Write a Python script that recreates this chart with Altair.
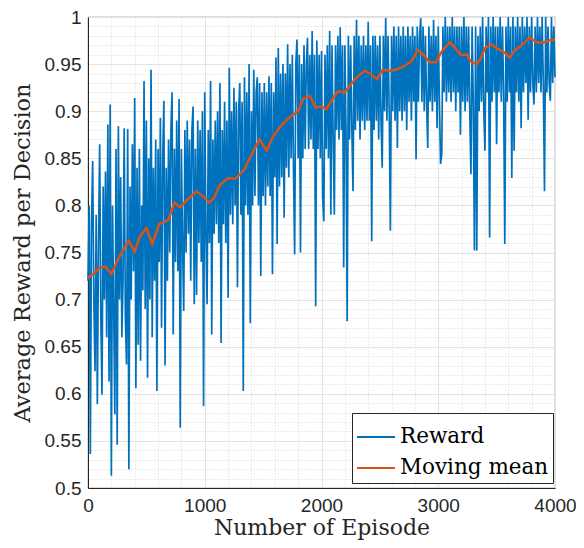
import altair as alt
import pandas as pd

reward = [
    0.72, 0.80, 0.536, 0.78, 0.847, 0.70, 0.624, 0.79, 0.589, 0.76,
    0.865, 0.68, 0.599, 0.82, 0.70, 0.836, 0.66, 0.886, 0.613, 0.907,
    0.513, 0.80, 0.69, 0.578, 0.86, 0.546, 0.884, 0.70, 0.83, 0.66,
    0.72, 0.882, 0.68, 0.631, 0.881, 0.520, 0.82, 0.70, 0.865, 0.73,
    0.914, 0.606, 0.84, 0.652, 0.86, 0.635, 0.80, 0.71, 0.932, 0.69,
    0.89, 0.617, 0.85, 0.70, 0.944, 0.66, 0.84, 0.72, 0.87, 0.603,
    0.86, 0.74, 0.893, 0.670, 0.85, 0.911, 0.630, 0.84, 0.72, 0.87,
    0.75, 0.88, 0.920, 0.663, 0.86, 0.74, 0.89, 0.73, 0.913, 0.564,
    0.86, 0.76, 0.688, 0.88, 0.75, 0.89, 0.77, 0.87, 0.72, 0.88,
    0.905, 0.695, 0.86, 0.705, 0.89, 0.76, 0.88, 0.74, 0.900, 0.587,
    0.920, 0.77, 0.695, 0.88, 0.76, 0.932, 0.663, 0.87, 0.77, 0.89,
    0.78, 0.90, 0.76, 0.930, 0.654, 0.88, 0.78, 0.91, 0.76, 0.89,
    0.702, 0.946, 0.79, 0.90, 0.78, 0.925, 0.80, 0.91, 0.713, 0.90,
    0.930, 0.79, 0.91, 0.603, 0.936, 0.80, 0.92, 0.79, 0.950, 0.675,
    0.90, 0.80, 0.944, 0.81, 0.92, 0.936, 0.80, 0.93, 0.725, 0.92,
    0.81, 0.93, 0.80, 0.92, 0.82, 0.937, 0.81, 0.93, 0.727, 0.92,
    0.83, 0.957, 0.759, 0.967, 0.82, 0.94, 0.83, 0.95, 0.787, 0.94,
    0.84, 0.971, 0.83, 0.95, 0.85, 0.96, 0.84, 0.748, 0.95, 0.976,
    0.85, 0.96, 0.750, 0.95, 0.85, 0.97, 0.86, 0.95, 0.978, 0.86,
    0.96, 0.87, 0.985, 0.86, 0.96, 0.693, 0.975, 0.86, 0.96, 0.85,
    0.964, 0.808, 0.783, 0.96, 0.86, 0.97, 0.85, 0.985, 0.790, 0.97,
    0.87, 0.790, 0.97, 0.88, 0.98, 0.87, 0.989, 0.88, 0.97, 0.734,
    0.97, 0.88, 0.677, 0.98, 0.87, 0.97, 0.88, 0.815, 0.98, 0.88,
    0.997, 0.89, 0.98, 0.87, 0.97, 0.89, 0.98, 0.88, 0.97, 0.89,
    0.995, 0.89, 0.97, 0.762, 0.98, 0.88, 0.98, 0.89, 0.97, 0.87,
    0.98, 0.89, 0.840, 0.98, 0.90, 0.999, 0.89, 0.98, 0.90, 0.773,
    0.98, 0.90, 0.99, 0.89, 0.98, 0.861, 0.990, 0.90, 0.98, 0.89,
    0.99, 0.90, 0.98, 0.88, 0.99, 0.91, 0.98, 0.89, 0.99, 0.91,
    0.98, 0.849, 0.99, 0.91, 0.98, 0.999, 0.91, 0.99, 0.90, 0.98,
    0.91, 0.861, 0.99, 0.91, 0.98, 0.90, 0.997, 0.91, 0.98, 0.882,
    0.99, 0.91, 0.844, 0.854, 0.99, 0.92, 1.0, 0.91, 0.99, 0.92,
    0.99, 0.91, 1.0, 0.92, 0.99, 0.90, 0.99, 0.92, 0.99, 0.875,
    0.99, 0.91, 1.0, 0.90, 0.99, 0.91, 0.99, 0.90, 0.833, 0.99,
    0.91, 0.752, 0.99, 0.752, 0.98, 0.90, 0.99, 0.91, 1.0, 0.90,
    0.858, 0.99, 0.92, 1.0, 0.766, 0.99, 0.91, 1.0, 0.92, 0.99,
    0.865, 0.99, 0.92, 1.0, 0.91, 0.99, 0.92, 0.759, 0.99, 0.91,
    1.0, 0.92, 0.99, 0.829, 1.0, 0.858, 0.99, 0.92, 1.0, 0.91,
    0.99, 0.882, 1.0, 0.92, 0.99, 0.93, 1.0, 0.891, 0.99, 0.92,
    1.0, 0.93, 0.907, 0.99, 0.92, 1.0, 0.93, 0.99, 0.92, 1.0,
    0.93, 0.815, 1.0, 0.92, 0.99, 0.93, 0.911, 1.0, 0.93, 0.99,
    0.936,
]
reward_episodes = list(range(0, 4001, 10))

# Moving mean
mean_episodes = [
    0, 50, 100, 150, 200, 250, 310, 350, 400, 440, 500, 550, 610, 690, 740,
    790, 850, 930, 1000, 1040, 1080, 1130, 1200, 1260, 1340, 1400, 1470,
    1530, 1580, 1650, 1720, 1800, 1840, 1900, 1950, 2000, 2040, 2100, 2140,
    2200, 2260, 2310, 2370, 2425, 2475, 2525, 2580, 2640, 2710, 2770, 2825,
    2880, 2925, 2980, 3033, 3100, 3145, 3190, 3250, 3275, 3330, 3370, 3400,
    3455, 3500, 3570, 3610, 3650, 3725, 3780, 3850, 3900, 3950, 4000,
]
mean_values = [
    0.723, 0.728, 0.734, 0.735, 0.727, 0.741, 0.755, 0.762, 0.751, 0.766,
    0.776, 0.759, 0.780, 0.785, 0.803, 0.798, 0.806, 0.815, 0.808, 0.803,
    0.808, 0.822, 0.829, 0.828, 0.838, 0.854, 0.870, 0.858, 0.872, 0.884,
    0.893, 0.900, 0.913, 0.916, 0.904, 0.905, 0.902, 0.914, 0.921, 0.920,
    0.930, 0.937, 0.943, 0.939, 0.934, 0.944, 0.943, 0.944, 0.948, 0.953,
    0.965, 0.959, 0.952, 0.952, 0.964, 0.973, 0.967, 0.960, 0.960, 0.953,
    0.950, 0.957, 0.967, 0.971, 0.967, 0.962, 0.957, 0.964, 0.971, 0.978,
    0.973, 0.973, 0.975, 0.976,
]

series_names = ["Reward", "Moving mean"]
series_colors = ["#0072BD", "#D95319"]
x_major = [0, 1000, 2000, 3000, 4000]
x_minor = list(range(0, 4001, 200))
y_major = [0.5, 0.55, 0.6, 0.65, 0.7, 0.75, 0.8, 0.85, 0.9, 0.95, 1.0]
y_minor = [round(0.5 + 0.01 * i, 2) for i in range(51)]

df_r = pd.DataFrame({"Episode": reward_episodes, "value": reward, "series": "Reward"})
df_m = pd.DataFrame({"Episode": mean_episodes, "value": mean_values, "series": "Moving mean"})

xs = alt.Scale(domain=[0, 4000], nice=False, zero=False)
ys = alt.Scale(domain=[0.5, 1.0], nice=False, zero=False)

label_font = "Liberation Sans"
title_font = "DejaVu Serif"

color = alt.Color(
    "series:N",
    scale=alt.Scale(domain=series_names, range=series_colors),
    legend=alt.Legend(
        title=None,
        orient="none",
        legendX=264,
        legendY=396,
        symbolType="stroke",
        symbolSize=1444,
        symbolStrokeWidth=2,
        labelFont=title_font,
        labelFontSize=21.5,
        labelColor="#000000",
        labelOffset=4,
        padding=4,
        rowPadding=0,
        fillColor="#ffffff",
        strokeColor="#262626",
    ),
)

minor_grid = alt.Chart(df_r).mark_line(opacity=0).encode(
    x=alt.X("Episode:Q", scale=xs, axis=alt.Axis(
        orient="bottom", values=x_minor, grid=True, gridDash=[1, 2],
        gridColor="#c0c0c0", gridWidth=0.6, labels=False, ticks=False,
        domain=False, title=None)),
    y=alt.Y("value:Q", scale=ys, axis=alt.Axis(
        orient="left", values=y_minor, grid=True, gridDash=[1, 2],
        gridColor="#c0c0c0", gridWidth=0.6, labels=False, ticks=False,
        domain=False, title=None)),
)

reward_line = alt.Chart(df_r).mark_line(strokeWidth=1.7).encode(
    x=alt.X("Episode:Q", scale=xs, axis=alt.Axis(
        orient="bottom", values=x_major, format="d", grid=True,
        gridColor="#e3e3e3", gridWidth=1, ticks=False, labelFont=label_font,
        labelFontSize=19, labelColor="#262626", labelPadding=8,
        labelFlush=False, domainColor="#262626", domainWidth=1,
        title="Number of Episode", titleFont=title_font, titleFontSize=22,
        titleFontWeight="normal", titleColor="#262626",
        titleBaseline="alphabetic", titleY=46)),
    y=alt.Y("value:Q", scale=ys, axis=alt.Axis(
        orient="left", values=y_major, format="~g", grid=True,
        gridColor="#e3e3e3", gridWidth=1, ticks=False, labelFont=label_font,
        labelFontSize=19, labelColor="#262626", labelPadding=7,
        labelFlush=False, domainColor="#262626", domainWidth=1,
        title="Average Reward per Decision", titleFont=title_font, titleFontSize=22.5,
        titleFontWeight="normal", titleColor="#262626", titlePadding=10)),
    color=color,
)

mean_line = alt.Chart(df_m).mark_line(strokeWidth=2.5).encode(
    x=alt.X("Episode:Q", scale=xs, axis=None),
    y=alt.Y("value:Q", scale=ys, axis=None),
    color=color,
)

chart = (
    alt.layer(minor_grid, reward_line, mean_line)
    .resolve_axis(x="independent", y="independent")
    .properties(
        width=467,
        height=471,
        autosize=alt.AutoSizeParams(type="none"),
        padding={"left": 80, "top": 9, "right": 21, "bottom": 52},
        background="#ffffff",
    )
    .configure_view(stroke="#262626", strokeWidth=0.8)
)

chart.save("out.html", embed_options={"renderer": "svg", "actions": False})
